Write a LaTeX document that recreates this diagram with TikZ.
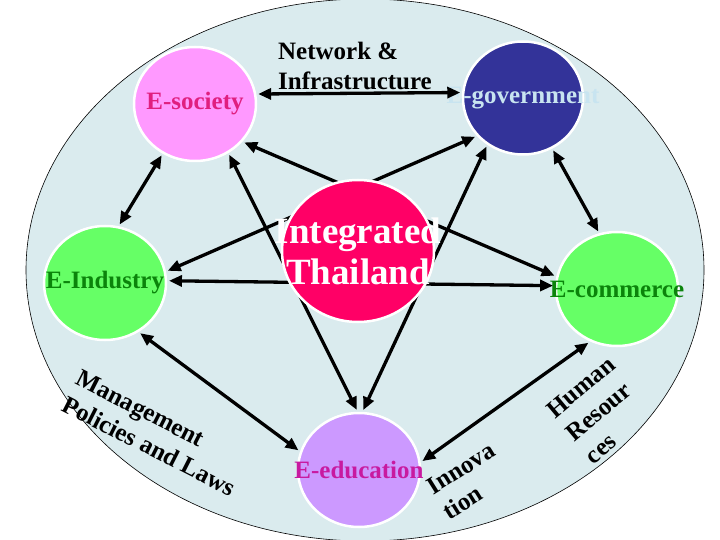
\documentclass[tikz,border=0pt]{standalone}
\usepackage{fontspec}
\setmainfont{Liberation Serif}
\usetikzlibrary{arrows.meta,shapes.geometric}

\definecolor{bgblue}{HTML}{DAEBEE}
\definecolor{socpink}{HTML}{FF99FF}
\definecolor{soctext}{HTML}{E01F7F}
\definecolor{govblue}{HTML}{333399}
\definecolor{govtext}{HTML}{C8E4F0}
\definecolor{sectgreen}{HTML}{66FF66}
\definecolor{greentext}{HTML}{0B840B}
\definecolor{edulav}{HTML}{CC99FF}
\definecolor{edutext}{HTML}{C81AA0}
\definecolor{thaired}{HTML}{FF0066}

\tikzset{
  bubble/.style={ellipse, draw=white, line width=2.5pt, minimum width=122pt,
    minimum height=114pt, inner sep=0pt, outer sep=3pt},
  lab/.style={font=\fontsize{25}{30}\selectfont\bfseries, inner sep=0pt},
  arrowline/.style={{Triangle[length=13pt,width=11pt]}-{Triangle[length=13pt,width=11pt]},
    line width=3.3pt, black},
}

\begin{document}
\begin{tikzpicture}[x=1pt,y=-1pt]
\useasboundingbox (0,0) rectangle (720,540);
% outer ring
\draw[fill=bgblue, line width=0.6pt] (365,270) ellipse [x radius=339, y radius=271];

% five sectors
\node[bubble, fill=socpink, label={[lab, text=soctext]center:E-society}] (soc) at (195,104) {};
\node[bubble, fill=govblue, minimum width=120pt, minimum height=113pt,
  label={[lab, text=govtext]center:E-government}] (gov) at (523,98) {};
\node[bubble, fill=sectgreen, label={[lab, text=greentext]center:E-Industry}] (ind) at (105,283) {};
\node[bubble, fill=sectgreen, label={[lab, text=greentext]center:E-commerce}] (com) at (617,289) {};
\node[bubble, fill=edulav, label={[lab, text=edutext]center:E-education}] (edu) at (359,470) {};

% pentagon
\draw[arrowline] (soc.9) -- (gov.175);
\draw[arrowline] (gov.300) -- (com.108);
\draw[arrowline] (com.242) -- (edu.8);
\draw[arrowline] (edu.162) -- (ind.305);
\draw[arrowline] (ind.76) -- (soc.237);
% star
\draw[arrowline] (soc.322) -- (com.168);
\draw[arrowline] (soc.304) -- (edu.92);
\draw[arrowline] (gov.219) -- (ind.11);
\draw[arrowline] (gov.233) -- (edu.86);
\draw[arrowline] (ind.2) -- (com.177);

% centre
\node[bubble, fill=thaired, minimum width=152pt, minimum height=142pt,
  label={[lab, text=white, font=\fontsize{37}{41}\selectfont\bfseries, align=center]center:{Integrated\\Thailand}}]
  (thai) at (358,251) {};

% captions
\node[lab, align=left] (net) at (355,66) {Network \&\\Infrastructure};
\node[lab, align=left, rotate=-27] (mgmt) at (156,433) {Management\\Policies and Laws};
\node[lab, align=left, rotate=32] (inno) at (469,481) {Innova\\tion};
\node[lab, align=left, rotate=40] (hr) at (600,410) {Human\\Resour\\ces};
\end{tikzpicture}
\end{document}
